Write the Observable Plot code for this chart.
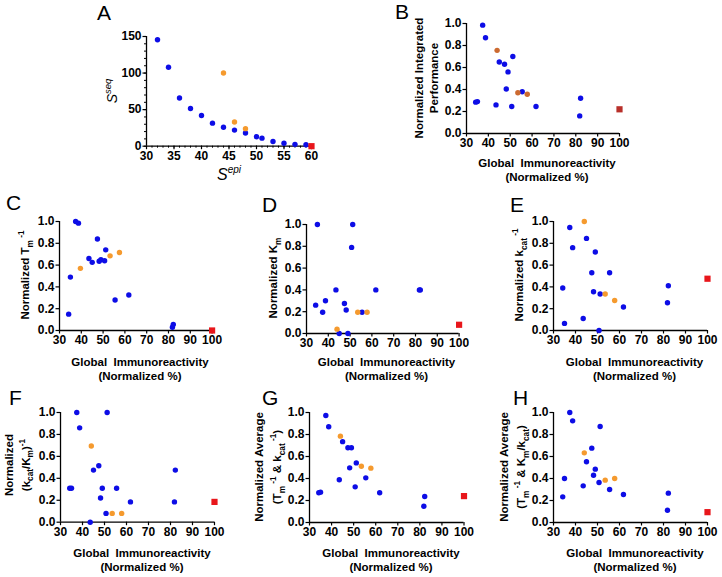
<!DOCTYPE html>
<html><head><meta charset="utf-8">
<script src="https://cdn.jsdelivr.net/npm/d3@7"></script>
<script src="https://cdn.jsdelivr.net/npm/@observablehq/plot@0.6"></script>
<style>
body{margin:0;background:#fff}
#fig{position:relative;width:722px;height:577px;overflow:hidden;font-family:"Liberation Sans",Arial,sans-serif}
#fig svg{position:absolute}
</style>
</head><body><div id="fig"></div>
<script>
// ---------- DATA ----------
// Panel A
const aXBlue = [32,34,36,38,40,42,44,46,48,50,51,53,55,57,59];
const aYBlue = [145.5,108,66,51.5,42,31.5,26,22,18,13,11,6.5,4,2.5,2];
const aXOrange = [44,46,48];
const aYOrange = [100,33,24];
const aXRed = [60];
const aYRed = [0];
const aXTicks = [30,35,40,45,50,55,60];
const aYTicks = [0,50,100,150];

// Panels B-H share the immunoreactivity x values
const xBlue = [34.2,35.0,37.4,38.7,43.5,45.0,47.4,48.2,49.0,50.7,51.2,55.5,61.8,81.8,82.2];
const xOrange = [44.0,53.5,57.8];
const xOrangeC = [39.6,53.2,57.5];
const xRed = [100];
const xTicks = [30,40,50,60,70,80,90,100];
const yTicks = [0,0.2,0.4,0.6,0.8,1.0];

const perfB   = [.285,.29,.985,.87,.26,.65,.63,.405,.56,.245,.70,.38,.245,.16,.32];
const perfBOr = [.756,.37,.357];
const perfBRed = [.22];
const tmC     = [.15,.49,1.0,.985,.66,.625,.84,.635,.65,.64,.74,.28,.325,.03,.055];
const tmCOr   = [.57,.685,.715];
const tmCRed  = [0];
const kmD     = [.26,1.0,.195,.30,.40,0,.275,.215,0,.79,1.0,.195,.40,.40,.40];
const kmDOr   = [.04,.195,.195];
const kmDRed  = [.08];
const kcatE   = [.39,.065,.945,.76,.11,.845,.53,.355,.72,0,.335,.53,.215,.255,.41];
const kcatEOr = [1.0,.335,.275];
const kcatERed = [.475];
const effF    = [.31,.31,1.0,.86,0,.475,.515,.22,.31,.08,1.0,.31,.185,.185,.475];
const effFOr  = [.695,.08,.08];
const effFRed = [.185];
const avgG    = [.27,.276,.973,.87,.388,.735,.68,.497,.68,.324,.542,.406,.27,.148,.236];
const avgGOr  = [.785,.512,.494];
const avgGRed = [.24];
const avgH    = [.233,.40,1.0,.924,.333,.552,.676,.43,.485,.364,.873,.30,.255,.112,.267];
const avgHOr  = [.633,.385,.40];
const avgHRed = [.094];

const panelLetters = ["A","B","C","D","E","F","G","H"];
const xTitle = [[{t:"Global  Immunoreactivity"}],[{t:"(Normalized %)"}]];

// ---------- DRAW ----------
const fig = document.getElementById("fig");
const FONT = '"Liberation Sans", Arial, sans-serif';
const BLUE = "#0d0de6", ORANGE = "#f59a2e", RED = "#e8161b";
const ORANGE_B = "#cc6a30", RED_B = "#b8302a";

const zip = (xs, ys) => xs.map((x, i) => ({x, y: ys[i]}));

function panel(f, o) {
  const ml = 40, mr = 12, mt = 10, mb = 30;
  const w = f.x1 - f.x0, h = f.yBot - f.yTop;
  const marks = [
    Plot.axisX({ticks: o.xTicks, tickSize: 3.5, tickPadding: 1.5, tickFormat: d => String(d), label: null, strokeWidth: 1.2}),
    Plot.axisY({ticks: o.yTicks, tickSize: 3.5, tickPadding: 1.5, tickFormat: o.yFmt, label: null, strokeWidth: 1.2}),
  ];
  if (o.xMinor) marks.push(Plot.axisX({ticks: o.xMinor, tickSize: 2, text: null, label: null, strokeWidth: 1}));
  if (o.yMinor) marks.push(Plot.axisY({ticks: o.yMinor, tickSize: 2, text: null, label: null, strokeWidth: 1}));
  marks.push(
    Plot.ruleX([o.xDomain[0]], {stroke: "#000", strokeWidth: 1.3}),
    Plot.ruleY([o.yDomain[0]], {stroke: "#000", strokeWidth: 1.3}),
    Plot.dot(o.blue, {x: "x", y: "y", r: 2.7, fill: BLUE}),
    Plot.dot(o.orange, {x: "x", y: "y", r: 2.7, fill: o.orColor || ORANGE}),
    Plot.dot(o.red, {x: "x", y: "y", r: 3.5, symbol: "square", fill: o.redColor || RED})
  );
  const p = Plot.plot({
    width: ml + w + mr, height: mt + h + mb,
    marginLeft: ml, marginRight: mr, marginTop: mt, marginBottom: mb,
    style: {fontFamily: FONT, fontSize: "12px", fontWeight: "bold", color: "#000", background: "transparent", overflow: "visible"},
    x: {domain: o.xDomain},
    y: {domain: o.yDomain},
    marks
  });
  p.style.left = (f.x0 - ml) + "px";
  p.style.top = (f.yTop - mt) + "px";
  fig.appendChild(p);
}

const fmt1 = d => d.toFixed(1);
const common = {xDomain: [30, 100], yDomain: [0, 1], xTicks, yTicks, yFmt: fmt1};

panel({x0: 146.3, x1: 311.3, yTop: 36, yBot: 145.7}, {
  xDomain: [30, 60], yDomain: [0, 150], xTicks: aXTicks, yTicks: aYTicks, yFmt: d => String(d),
  xMinor: d3.range(30, 61, 1), yMinor: d3.range(0, 151, 10),
  blue: zip(aXBlue, aYBlue), orange: zip(aXOrange, aYOrange), red: zip(aXRed, aYRed)
});
panel({x0: 466, x1: 619, yTop: 23, yBot: 133}, {...common,
  blue: zip(xBlue, perfB), orange: zip(xOrange, perfBOr), red: zip(xRed, perfBRed), orColor: ORANGE_B, redColor: RED_B});
panel({x0: 59.4, x1: 212, yTop: 221, yBot: 330}, {...common,
  blue: zip(xBlue, tmC), orange: zip(xOrangeC, tmCOr), red: zip(xRed, tmCRed)});
panel({x0: 305.7, x1: 458.3, yTop: 224, yBot: 333}, {...common,
  blue: zip(xBlue, kmD), orange: zip(xOrange, kmDOr), red: zip(xRed, kmDRed)});
panel({x0: 553, x1: 707, yTop: 221, yBot: 330}, {...common,
  blue: zip(xBlue, kcatE), orange: zip(xOrange, kcatEOr), red: zip(xRed, kcatERed)});
panel({x0: 60.3, x1: 214.3, yTop: 412.3, yBot: 522}, {...common,
  blue: zip(xBlue, effF), orange: zip(xOrange, effFOr), red: zip(xRed, effFRed)});
panel({x0: 308.8, x1: 463.3, yTop: 412.3, yBot: 522.3}, {...common,
  blue: zip(xBlue, avgG), orange: zip(xOrange, avgGOr), red: zip(xRed, avgGRed)});
panel({x0: 552.7, x1: 706.7, yTop: 412.3, yBot: 522.3}, {...common,
  blue: zip(xBlue, avgH), orange: zip(xOrange, avgHOr), red: zip(xRed, avgHRed)});

// ---------- TEXT OVERLAY ----------
const NS = "http://www.w3.org/2000/svg";
const ov = document.createElementNS(NS, "svg");
ov.setAttribute("width", 722); ov.setAttribute("height", 577);
ov.style.left = "0px"; ov.style.top = "0px";
ov.style.fontFamily = FONT;
fig.appendChild(ov);

function rich(x, y, parts, {rotate = false, size = 11.5, weight = "bold", anchor = "middle", italic = false} = {}) {
  const t = document.createElementNS(NS, "text");
  t.setAttribute("x", x); t.setAttribute("y", y);
  t.setAttribute("text-anchor", anchor);
  t.setAttribute("font-weight", weight);
  t.setAttribute("font-size", size);
  t.setAttribute("fill", "#000");
  t.style.whiteSpace = "pre";
  if (italic) t.setAttribute("font-style", "italic");
  if (rotate) t.setAttribute("transform", `rotate(-90 ${x} ${y})`);
  let cur = 0;
  for (const p of parts) {
    const s = document.createElementNS(NS, "tspan");
    const target = p.sub ? size * 0.32 : p.sup ? -size * 0.42 : 0;
    if (target !== cur) s.setAttribute("dy", target - cur);
    cur = target;
    s.setAttribute("font-size", p.size || ((p.sub || p.sup) ? size * 0.72 : size));
    s.textContent = p.t;
    t.appendChild(s);
  }
  ov.appendChild(t);
}

// panel letters
const letterPos = [[97,20],[395,19],[6,210],[262,212],[510,212],[9,405],[262,405],[513,405]];
panelLetters.forEach((L, i) => rich(letterPos[i][0], letterPos[i][1], [{t: L}], {size: 21, weight: "normal", anchor: "start"}));

// Panel A axis titles
rich(229, 180, [{t: "S", size: 16}, {t: "epi", sup: true, size: 10}], {size: 16, weight: "normal", italic: true});
rich(117, 91, [{t: "S", size: 14}, {t: "seq", sup: true, size: 9.5}], {size: 14, weight: "normal", italic: true, rotate: true});

// x titles for panels B-H
const xCenters = [[547,167],[140,366],[386.5,366],[634.5,366],[142,557],[391,557],[635,557]];
xCenters.forEach(([cx, by]) => {
  rich(cx, by, xTitle[0]);
  rich(cx, by + 14, xTitle[1]);
});

// y titles
rich(422.5, 78, [{t: "Normalized Integrated"}], {rotate: true});
rich(438, 78, [{t: "Performance"}], {rotate: true});
rich(29, 275, [{t: "Normalized T"}, {t: "m", sub: true}, {t: " -1", sup: true}], {rotate: true});
rich(277, 278, [{t: "Normalized K"}, {t: "m", sub: true}], {rotate: true});
rich(523, 275, [{t: "Normalized k"}, {t: "cat", sub: true}, {t: " -1", sup: true}], {rotate: true});
rich(13, 465, [{t: "Normalized"}], {rotate: true});
rich(29.5, 465, [{t: "(k"}, {t: "cat", sub: true}, {t: "/K"}, {t: "m", sub: true}, {t: ")"}, {t: "-1", sup: true}], {rotate: true});
rich(263, 467, [{t: "Normalized Average"}], {rotate: true});
rich(281, 467, [{t: "(T"}, {t: "m", sub: true}, {t: " -1", sup: true}, {t: " & k"}, {t: "cat", sub: true}, {t: " -1", sup: true}, {t: ")"}], {rotate: true});
rich(508, 467, [{t: "Normalized Average"}], {rotate: true});
rich(525, 467, [{t: "(T"}, {t: "m", sub: true}, {t: " -1", sup: true}, {t: " & K"}, {t: "m", sub: true}, {t: "/k"}, {t: "cat", sub: true}, {t: ")"}], {rotate: true});
</script>
</body></html>
